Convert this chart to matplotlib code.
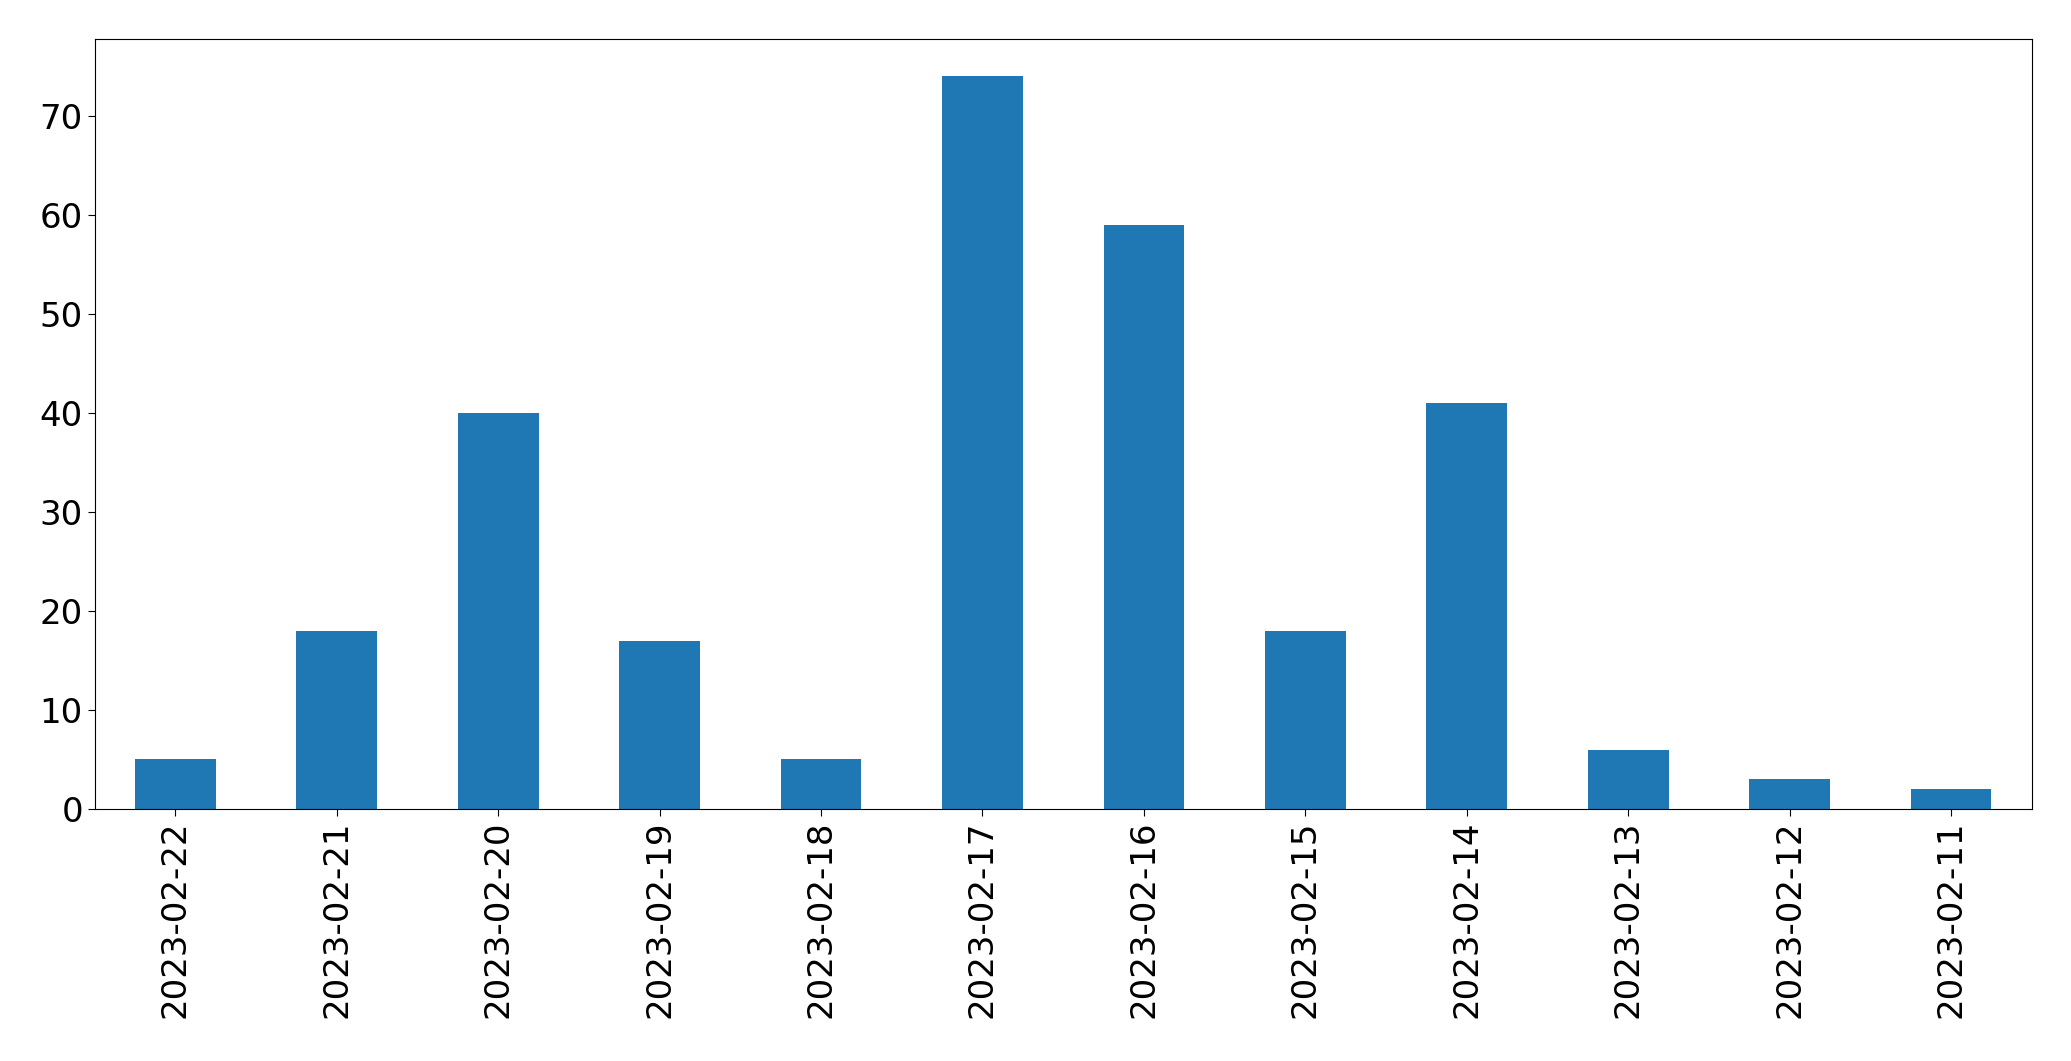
import matplotlib
matplotlib.use("Agg")
import matplotlib.pyplot as plt

dates = ["2023-02-22", "2023-02-21", "2023-02-20", "2023-02-19", "2023-02-18", "2023-02-17",
         "2023-02-16", "2023-02-15", "2023-02-14", "2023-02-13", "2023-02-12", "2023-02-11"]
counts = [5, 18, 40, 17, 5, 74, 59, 18, 41, 6, 3, 2]

fig = plt.figure(figsize=(20.71, 10.61), dpi=100)
ax = fig.add_axes([94.7 / 2071, 1 - 809 / 1061, (2031.7 - 94.7) / 2071, (809 - 39.3) / 1061])
x = list(range(len(dates)))
ax.bar(x, counts, width=0.5, color="#1f77b4")
ax.set_xticks(x)
ax.set_xticklabels(dates, rotation=90)
ax.set_xlim(-0.5, len(dates) - 0.5)
ax.set_ylim(0, max(counts) * 1.05)
ax.tick_params(labelsize=24.5, length=5)
fig.savefig("out.png", dpi=100)
